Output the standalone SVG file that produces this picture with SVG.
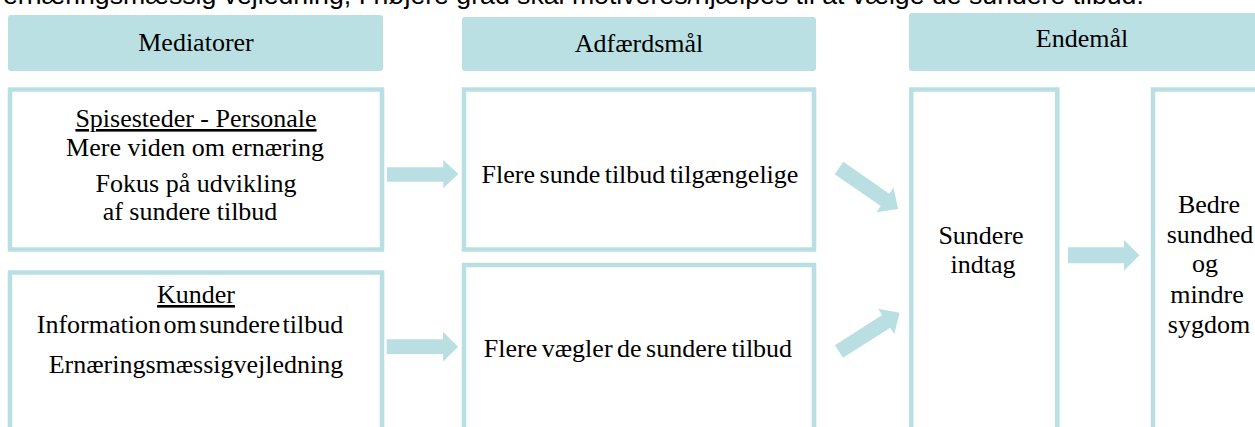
<svg xmlns="http://www.w3.org/2000/svg" width="1255" height="427" viewBox="0 0 1255 427">
<style>
.hdr{fill:#bae0e3;stroke:none}
.box{fill:#ffffff;stroke:#b9dfe2;stroke-width:4.5}
.arr{fill:#b9dfe2;stroke:none}
.t{font-family:"Liberation Serif","Times New Roman",serif;font-size:26px;fill:#000;text-anchor:middle}
.top{font-family:"Liberation Sans",Arial,sans-serif;font-size:26.67px;fill:#000}
</style>
<rect width="1255" height="427" fill="#ffffff"/>
<text class="top" x="3" y="3.5">ernæringsmæssig vejledning, I højere grad skal motiveres/hjælpes til at vælge de sundere tilbud.</text>
<g id="hdr-mediatorer">
<rect class="hdr" x="8" y="15" width="375" height="56" rx="3"/>
<text class="t" x="196" y="51">Mediatorer</text>
</g>
<g id="hdr-adfaerdsmaal">
<rect class="hdr" x="462" y="17" width="354" height="54" rx="3"/>
<text class="t" x="639" y="52">Adfærdsmål</text>
</g>
<g id="hdr-endemaal">
<rect class="hdr" x="909" y="13" width="350" height="58" rx="3"/>
<text class="t" x="1082" y="47">Endemål</text>
</g>
<g id="node-spisesteder">
<rect class="box" x="10" y="89.5" width="372" height="160"/>
<text class="t" x="196" y="127" text-decoration="underline">Spisesteder - Personale</text>
<text class="t" x="195" y="156">Mere viden om ernæring</text>
<text class="t" x="196" y="192">Fokus på udvikling</text>
<text class="t" x="190" y="220">af sundere tilbud</text>
</g>
<g id="node-kunder">
<rect class="box" x="10" y="272.5" width="372" height="200"/>
<text class="t" x="196" y="303" text-decoration="underline">Kunder</text>
<text class="t" x="190" y="333" word-spacing="-4">Information om sundere tilbud</text>
<text class="t" x="196" y="373">Ernæringsmæssigvejledning</text>
</g>
<g id="node-flere-sunde">
<rect class="box" x="464" y="89.5" width="350" height="160"/>
<text class="t" x="640" y="183" word-spacing="-2">Flere sunde tilbud tilgængelige</text>
</g>
<g id="node-flere-vaelger">
<rect class="box" x="464" y="265" width="350" height="200"/>
<text class="t" x="638" y="357" word-spacing="-2">Flere vægler de sundere tilbud</text>
</g>
<g id="node-sundere-indtag">
<rect class="box" x="911.3" y="89.5" width="146" height="380"/>
<text class="t" x="981" y="244">Sundere</text>
<text class="t" x="983" y="273">indtag</text>
</g>
<g id="node-bedre-sundhed">
<rect class="box" x="1153" y="89.5" width="150" height="380"/>
<text class="t" x="1209" y="213">Bedre</text>
<text class="t" x="1210" y="243">sundhed</text>
<text class="t" x="1205" y="272">og</text>
<text class="t" x="1207" y="303">mindre</text>
<text class="t" x="1209" y="333">sygdom</text>
</g>
<g id="connectors">
<polygon class="arr" points="387,167.3 443.3,167.3 443.3,160 458.3,174 443.3,188.3 443.3,181.7 387,181.7"/>
<polygon class="arr" points="386.7,339.3 443,339.3 443,331.7 458,346.7 443,361.7 443,354 386.7,354"/>
<polygon class="arr" points="0,-7.5 56,-7.5 56,-15 72,0 56,15 56,7.5 0,7.5" transform="translate(839,168) rotate(34.8)"/>
<polygon class="arr" points="0,-7.5 56,-7.5 56,-15 72,0 56,15 56,7.5 0,7.5" transform="translate(839,351.5) rotate(-32.6)"/>
<polygon class="arr" points="1068,247.3 1124,247.3 1124,240 1139.3,255.3 1124,270.7 1124,263.3 1068,263.3"/>
</g>
</svg>
